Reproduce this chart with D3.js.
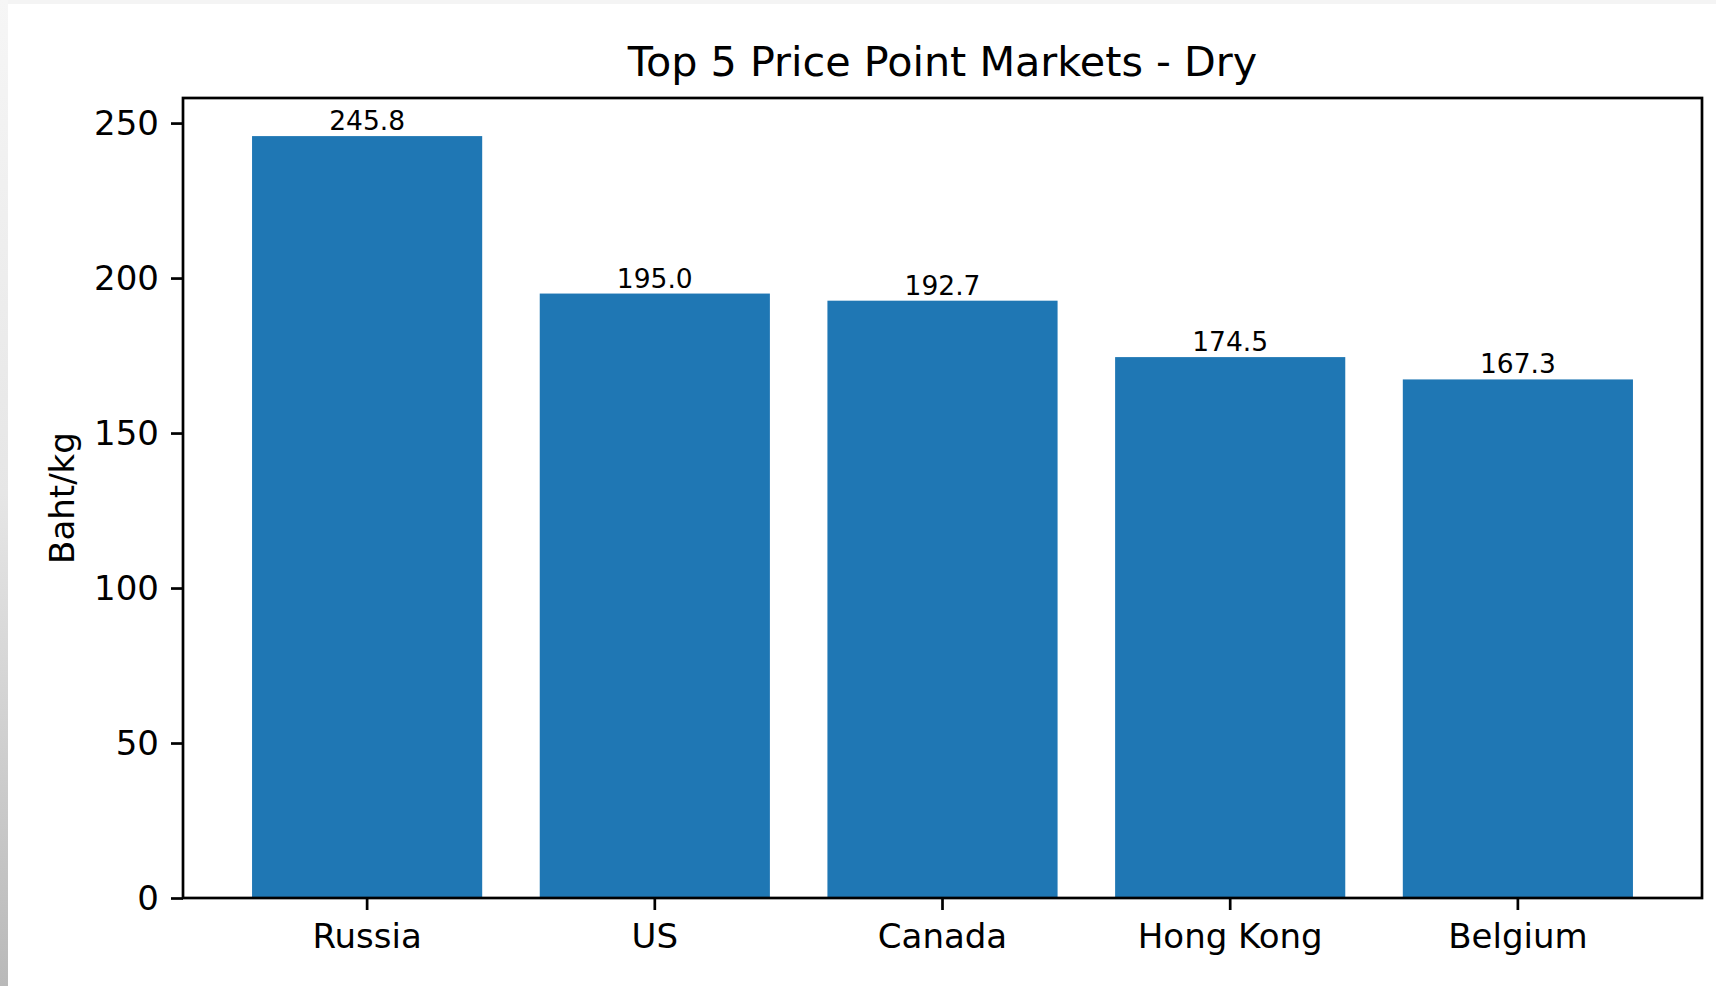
<!DOCTYPE html>
<html>
<head>
<meta charset="utf-8">
<script src="https://cdn.jsdelivr.net/npm/d3@7"></script>
<style>
  html, body { margin: 0; padding: 0; background: #fff; }
  svg { display: block; }
  text { font-family: "DejaVu Sans", sans-serif; fill: #000; }
</style>
</head>
<body>
<svg id="chart"></svg>
<script>
/* ---------- data ---------- */
const markets = ["Russia", "US", "Canada", "Hong Kong", "Belgium"];
const prices = [245.8, 195.0, 192.7, 174.5, 167.3];
const yTicks = [0, 50, 100, 150, 200, 250];
const chartTitle = "Top 5 Price Point Markets - Dry";
const yLabel = "Baht/kg";

/* ---------- layout ---------- */
const W = 1716, H = 986;
const plot = { left: 183, top: 98, right: 1702, bottom: 898 };
const blue = "#1f77b4";

const svg = d3.select("#chart").attr("width", W).attr("height", H);

// screenshot frame: light top strip + grey gradient on the left edge
const defs = svg.append("defs");
const grad = defs.append("linearGradient")
  .attr("id", "edge").attr("x1", 0).attr("y1", 0).attr("x2", 0).attr("y2", 1);
grad.append("stop").attr("offset", "0%").attr("stop-color", "#f6f6f6");
grad.append("stop").attr("offset", "50%").attr("stop-color", "#e6e6e6");
grad.append("stop").attr("offset", "100%").attr("stop-color", "#b9b9b9");
svg.append("rect").attr("x", 0).attr("y", 0).attr("width", W).attr("height", 4).attr("fill", "#f4f4f4");
svg.append("rect").attr("x", 0).attr("y", 0).attr("width", 8).attr("height", H).attr("fill", "url(#edge)");

/* ---------- scales ---------- */
const x = d3.scaleBand()
  .domain(markets)
  .range([plot.left, plot.right])
  .paddingInner(0.2)
  .paddingOuter(0.24);

const y = d3.scaleLinear()
  .domain([0, d3.max(prices) * 1.05])
  .range([plot.bottom, plot.top]);

/* ---------- bars ---------- */
svg.append("g")
  .selectAll("rect")
  .data(markets)
  .join("rect")
  .attr("x", (d) => x(d))
  .attr("width", x.bandwidth())
  .attr("y", (d, i) => y(prices[i]))
  .attr("height", (d, i) => plot.bottom - y(prices[i]))
  .attr("fill", blue);

/* ---------- bar labels ---------- */
svg.append("g")
  .selectAll("text")
  .data(markets)
  .join("text")
  .attr("x", (d) => x(d) + x.bandwidth() / 2)
  .attr("y", (d, i) => y(prices[i]) - 6)
  .attr("text-anchor", "middle")
  .attr("font-size", 26.5)
  .text((d, i) => prices[i].toFixed(1));

/* ---------- axes ---------- */
const xAxis = svg.append("g")
  .attr("transform", `translate(0,${plot.bottom})`)
  .call(d3.axisBottom(x).tickSize(12).tickPadding(14));

const yAxis = svg.append("g")
  .attr("transform", `translate(${plot.left},0)`)
  .call(d3.axisLeft(y).tickValues(yTicks).tickSize(12).tickPadding(12).tickFormat(d3.format("d")));

[xAxis, yAxis].forEach((g) => {
  g.select(".domain").remove();
  g.selectAll(".tick line").attr("stroke", "#000").attr("stroke-width", 2.7);
  g.selectAll(".tick text")
    .attr("font-size", 34)
    .attr("font-family", "DejaVu Sans, sans-serif")
    .attr("fill", "#000");
});
xAxis.selectAll(".tick text").attr("dy", "0.72em");
yAxis.selectAll(".tick text").attr("dy", "0.35em");

/* ---------- frame ---------- */
svg.append("rect")
  .attr("x", plot.left)
  .attr("y", plot.top)
  .attr("width", plot.right - plot.left)
  .attr("height", plot.bottom - plot.top)
  .attr("fill", "none")
  .attr("stroke", "#000")
  .attr("stroke-width", 2.7);

/* ---------- title + y label ---------- */
svg.append("text")
  .attr("x", (plot.left + plot.right) / 2)
  .attr("y", 76)
  .attr("text-anchor", "middle")
  .attr("font-size", 41.3)
  .text(chartTitle);

svg.append("text")
  .attr("transform", `translate(74,${(plot.top + plot.bottom) / 2}) rotate(-90)`)
  .attr("text-anchor", "middle")
  .attr("font-size", 34)
  .text(yLabel);
</script>
</body>
</html>
